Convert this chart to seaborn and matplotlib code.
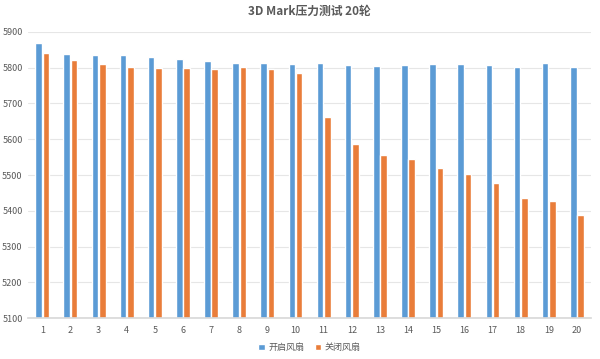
import matplotlib
matplotlib.use("Agg")
import matplotlib.pyplot as plt
import seaborn as sns
import pandas as pd

rounds = [str(i) for i in range(1, 21)]
fan_on = [5870, 5838, 5835, 5835, 5829, 5823, 5818, 5814, 5814, 5810,
          5812, 5807, 5805, 5807, 5810, 5809, 5807, 5801, 5812, 5803]
fan_off = [5840, 5822, 5809, 5802, 5799, 5799, 5796, 5802, 5796, 5784,
           5661, 5587, 5556, 5545, 5520, 5503, 5479, 5436, 5428, 5387]
series_names = ["开启风扇", "关闭风扇"]
title = "3D Mark压力测试 20轮"
yticks = list(range(5100, 5901, 100))

df = pd.DataFrame({
    "round": rounds * 2,
    "value": fan_on + fan_off,
    "series": [series_names[0]] * len(rounds) + [series_names[1]] * len(rounds),
})

sns.set_theme(style="white")
plt.rcParams["font.family"] = ["Noto Sans CJK SC", "DejaVu Sans"]

fig = plt.figure(figsize=(6.0, 3.59), dpi=100)
ax = fig.add_axes([0.047, 0.114, 0.938, 0.797])

palette = {series_names[0]: "#5b9bd5", series_names[1]: "#e97d3a"}
sns.barplot(data=df, x="round", y="value", hue="series", palette=palette,
            width=0.52, gap=0.1, saturation=1, ax=ax, legend=True)

ax.set_ylim(5100, 5900)
ax.set_yticks(yticks)
ax.set_yticklabels([str(t) for t in yticks], fontsize=6.5, color="#595959")
ax.tick_params(axis="x", labelsize=6.5, colors="#595959", length=0, pad=6)
ax.tick_params(axis="y", length=0, pad=4)
ax.set_xlim(-0.5, 19.5)
ax.yaxis.grid(True, color="#e6e6e6", linewidth=0.8)
ax.set_axisbelow(True)
for s in ["top", "right", "left"]:
    ax.spines[s].set_visible(False)
ax.spines["bottom"].set_color("#d9d9d9")
ax.set_xlabel("")
ax.set_ylabel("")

ax.set_title(title, fontsize=8.5, color="#595959", fontweight="bold", pad=12)

handles, labels = ax.get_legend_handles_labels()
ax.legend(handles, labels, loc="upper center", bbox_to_anchor=(0.5, -0.06),
          ncol=2, frameon=False, fontsize=6.5, handlelength=0.7, handleheight=0.7,
          handletextpad=0.4, columnspacing=1.2, labelcolor="#595959")

fig.savefig("out.png", dpi=100)
